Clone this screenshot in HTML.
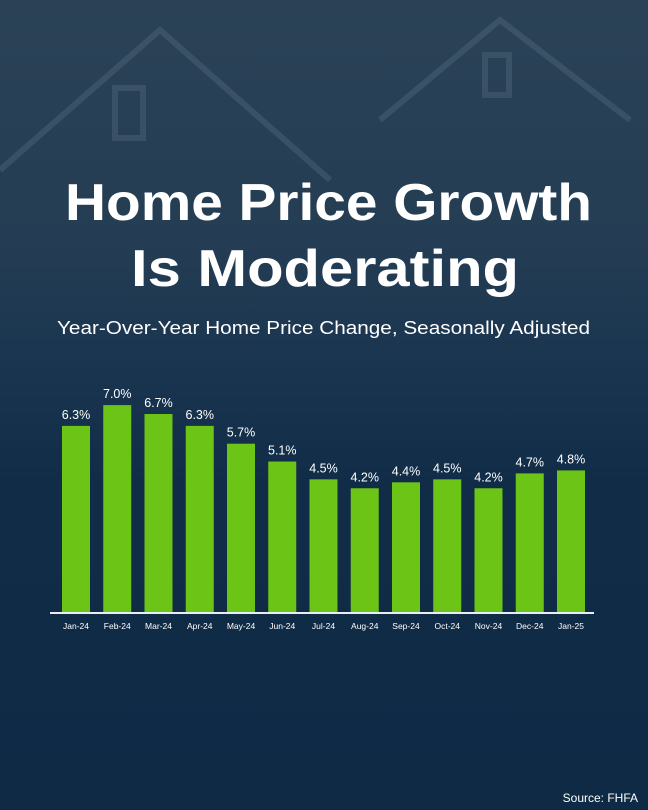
<!DOCTYPE html>
<html><head><meta charset="utf-8"><style>
body{margin:0;width:648px;height:810px;overflow:hidden;font-family:"Liberation Sans",sans-serif}
#bg{position:absolute;left:0;top:0;width:648px;height:810px;background:linear-gradient(180deg,#2b4256 0%,#243d54 30%,#1a3550 45%,#102c47 60%,#0e2a45 100%)}
</style></head><body>
<div id="bg"></div>
<svg width="648" height="810" style="position:absolute;left:0;top:0">
 <g opacity="0.18" fill="none" stroke="#8aa0b4" stroke-width="6">
  <path d="M0 170 L160 30 L330 180"/>
  <path d="M380 120 L500 20 L630 120"/>
  <rect x="115" y="88" width="28" height="50"/>
  <rect x="485" y="55" width="24" height="40"/>
 </g>
 <text x="65" y="220" textLength="527" lengthAdjust="spacingAndGlyphs" fill="#fff" font-size="52" font-weight="bold">Home Price Growth</text>
 <text x="131" y="286" textLength="388" lengthAdjust="spacingAndGlyphs" fill="#fff" font-size="52" font-weight="bold">Is Moderating</text>
 <text x="57" y="334" textLength="533" lengthAdjust="spacingAndGlyphs" fill="#fff" font-size="18">Year-Over-Year Home Price Change, Seasonally Adjusted</text>
 <g id="bars"></g>
 <line x1="50" y1="613" x2="594" y2="613" stroke="#e8eef3" stroke-width="2"/>
 <text x="638" y="802" text-anchor="end" fill="#fff" font-size="12">Source: FHFA</text>
</svg>
<script>
const categories=["Jan-24","Feb-24","Mar-24","Apr-24","May-24","Jun-24","Jul-24","Aug-24","Sep-24","Oct-24","Nov-24","Dec-24","Jan-25"];
const values=[6.3,7.0,6.7,6.3,5.7,5.1,4.5,4.2,4.4,4.5,4.2,4.7,4.8];
const NS="http://www.w3.org/2000/svg";
const base=613, scale=29.7, x0=62, step=41.25, bw=28;
const y=v=>base-v*scale;
const g=document.getElementById('bars');
categories.forEach((c,i)=>{
 const x=x0+i*step;
 const r=document.createElementNS(NS,'rect');
 r.setAttribute('x',x);r.setAttribute('y',y(values[i]));r.setAttribute('width',bw);r.setAttribute('height',base-y(values[i]));r.setAttribute('fill','#6cc417');
 
 
 g.appendChild(r);
 const t=document.createElementNS(NS,'text');
 t.setAttribute('x',x+bw/2);t.setAttribute('y',y(values[i])-7);t.setAttribute('text-anchor','middle');t.setAttribute('fill','#fff');t.setAttribute('font-size','12.5');
 t.textContent=values[i].toFixed(1)+'%';
 
 
 g.appendChild(t);
 const l=document.createElementNS(NS,'text');
 l.setAttribute('x',x+bw/2);l.setAttribute('y',629);l.setAttribute('text-anchor','middle');l.setAttribute('fill','#fff');l.setAttribute('font-size','8.5');
 l.textContent=c;
 
 
 g.appendChild(l);
});
</script>
</body></html>
